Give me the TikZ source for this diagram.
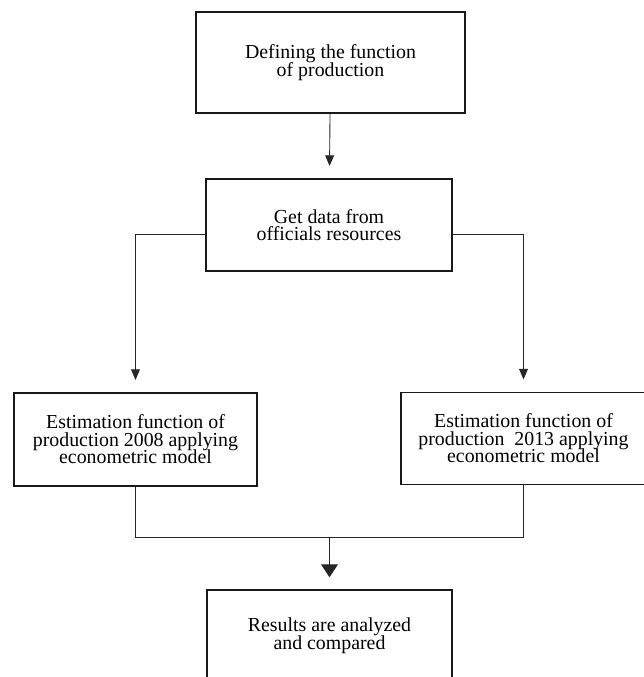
\documentclass[tikz,border=0pt]{standalone}
\usepackage{fontspec}
\setmainfont{Liberation Serif}
\usetikzlibrary{calc}
\usetikzlibrary{arrows.meta}
\usetikzlibrary{positioning}

\begin{document}
\begin{tikzpicture}[
                font={\fontsize{11.3}{10}\selectfont\lineskiplimit=-20pt},
                stepbox/.style={rectangle, draw=black!90, line width=0.85pt, align=center, inner sep=0pt},
                conn/.style={draw=black!85, line width=0.5pt},
                smallarrow/.style={conn, -{Triangle[length=6pt, width=5pt]}, shorten >=7pt},
                bigarrow/.style={conn, line width=0.6pt, -{Triangle[length=7.4pt, width=9.6pt]}, shorten >=6.8pt},
                ]

                % ── Frame: 644 x 677 px, 1px = 0.02cm ──
                \useasboundingbox (0,0) rectangle (12.88,-13.54);
                \clip (0,0) rectangle (12.88,-13.54);

                % ── Boxes ──
                \node[stepbox, minimum width=5.38cm, minimum height=2.02cm] (define) at (6.61,-1.25)
                    {Defining the function\\of production};
                \node[stepbox, minimum width=4.92cm, minimum height=1.84cm] (data) at (6.58,-4.50)
                    {Get data from\\officials resources};
                \node[stepbox, minimum width=4.86cm, minimum height=1.86cm] (est08) at (2.71,-8.79)
                    {Estimation function of\\production 2008 applying\\econometric model};
                \node[stepbox, minimum width=4.90cm, minimum height=1.84cm] (est13) at (10.47,-8.77)
                    {Estimation function of\\production\ \ 2013 applying\\econometric model};
                \node[stepbox, minimum width=4.90cm, minimum height=1.84cm] (results) at (6.59,-12.72)
                    {Results are analyzed\\and compared};

                % ── Connectors ──
                \draw[smallarrow] (define) -- (data);
                \draw[smallarrow] ([yshift=-0.18cm]data.west) -| (est08);
                \draw[smallarrow] ([yshift=-0.18cm]data.east) -| (est13);

                % join both estimations, then one arrow down
                \coordinate (join) at ([yshift=-1.02cm]est08.south);
                \draw[conn] (est08.south) -- (join) -| (est13.south);
                \draw[bigarrow] (join -| results.north) -- (results);

\end{tikzpicture}
\end{document}
